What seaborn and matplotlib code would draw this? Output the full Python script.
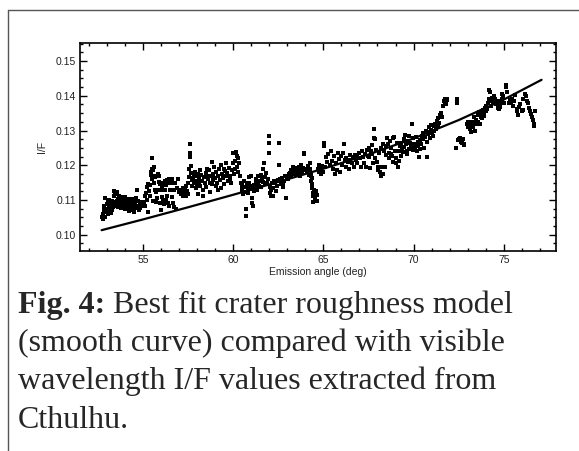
import numpy as np
import pandas as pd
import matplotlib
matplotlib.use("Agg")
import matplotlib.pyplot as plt
import seaborn as sns
from matplotlib.ticker import MultipleLocator
from matplotlib.lines import Line2D

# ---- data: (emission angle, I/F) ----
points_a = [(52.73, 0.1050), (52.76, 0.1060), (52.78, 0.1044), (52.82, 0.1072), (52.85, 0.1082),
            (52.88, 0.1052), (52.91, 0.1105), (52.94, 0.1066), (52.97, 0.1088), (53.00, 0.1074),
            (53.03, 0.1096), (53.06, 0.1060), (53.09, 0.1084), (53.12, 0.1100), (53.15, 0.1070),
            (53.18, 0.1092), (53.21, 0.1062), (53.24, 0.1086), (53.27, 0.1072), (53.30, 0.1098),
            (53.33, 0.1080), (53.36, 0.1112), (53.39, 0.1126), (53.42, 0.1086), (53.45, 0.1118),
            (53.48, 0.1094), (53.51, 0.1082), (53.54, 0.1122), (53.57, 0.1096), (53.60, 0.1080),
            (53.63, 0.1104), (53.66, 0.1088), (53.69, 0.1110), (53.72, 0.1084), (53.75, 0.1100),
            (53.78, 0.1076), (53.81, 0.1108), (53.84, 0.1092), (53.87, 0.1080), (53.90, 0.1102),
            (53.93, 0.1086), (53.96, 0.1098), (53.99, 0.1108), (54.02, 0.1074), (54.05, 0.1094),
            (54.08, 0.1086), (54.11, 0.1102), (54.14, 0.1078), (54.17, 0.1098), (54.20, 0.1068),
            (54.23, 0.1090), (54.26, 0.1104), (54.29, 0.1082), (54.32, 0.1070), (54.35, 0.1098),
            (54.38, 0.1088), (54.41, 0.1074), (54.44, 0.1104), (54.47, 0.1084), (54.50, 0.1066),
            (54.53, 0.1100), (54.56, 0.1090), (54.59, 0.1078), (54.62, 0.1106), (54.65, 0.1130),
            (54.68, 0.1082), (54.72, 0.1096), (54.76, 0.1070), (54.80, 0.1088), (54.85, 0.1078),
            (54.90, 0.1094), (54.95, 0.1082)]

points_b = [(55.04, 0.1095), (55.09, 0.1082), (55.13, 0.1110), (55.17, 0.1120), (55.21, 0.1100),
            (55.24, 0.1138), (55.27, 0.1145), (55.29, 0.1065), (55.32, 0.1125), (55.36, 0.1142),
            (55.39, 0.1110), (55.42, 0.1172), (55.45, 0.1180), (55.47, 0.1160), (55.49, 0.1220),
            (55.52, 0.1190), (55.54, 0.1098), (55.56, 0.1185), (55.58, 0.1150), (55.60, 0.1195),
            (55.62, 0.1170), (55.65, 0.1165), (55.67, 0.1128), (55.70, 0.1095), (55.73, 0.1122),
            (55.76, 0.1105), (55.79, 0.1130), (55.83, 0.1175), (55.86, 0.1152), (55.89, 0.1168),
            (55.92, 0.1090), (55.95, 0.1145), (55.98, 0.1070), (56.01, 0.1128), (56.04, 0.1108),
            (56.07, 0.1140), (56.10, 0.1098), (56.13, 0.1150), (56.16, 0.1088), (56.19, 0.1130),
            (56.22, 0.1155), (56.25, 0.1100), (56.28, 0.1142), (56.31, 0.1158), (56.34, 0.1110),
            (56.37, 0.1092), (56.40, 0.1148), (56.43, 0.1160), (56.46, 0.1082), (56.50, 0.1130),
            (56.54, 0.1150), (56.58, 0.1108), (56.62, 0.1160), (56.66, 0.1090), (56.70, 0.1128),
            (56.74, 0.1080), (56.78, 0.1150), (56.82, 0.1075), (56.86, 0.1135), (56.91, 0.1160),
            (56.97, 0.1122)]

points_c = [(57.08, 0.1128), (57.12, 0.1118), (57.17, 0.1125), (57.20, 0.1110), (57.23, 0.1135),
            (57.28, 0.1120), (57.32, 0.1130), (57.37, 0.1112), (57.40, 0.1140), (57.43, 0.1125),
            (57.47, 0.1150), (57.51, 0.1118), (57.54, 0.1165), (57.56, 0.1190), (57.58, 0.1225),
            (57.60, 0.1235), (57.62, 0.1262), (57.65, 0.1198), (57.67, 0.1178), (57.70, 0.1158),
            (57.73, 0.1140), (57.77, 0.1162), (57.80, 0.1148), (57.83, 0.1175), (57.87, 0.1180),
            (57.90, 0.1155), (57.93, 0.1135), (57.98, 0.1168), (58.01, 0.1145), (58.04, 0.1175),
            (58.06, 0.1118), (58.08, 0.1160), (58.11, 0.1150), (58.14, 0.1185), (58.18, 0.1140),
            (58.22, 0.1172), (58.27, 0.1155), (58.30, 0.1128), (58.33, 0.1110), (58.38, 0.1165),
            (58.42, 0.1148), (58.47, 0.1178), (58.50, 0.1138), (58.53, 0.1190), (58.58, 0.1160),
            (58.62, 0.1170), (58.67, 0.1185), (58.70, 0.1150), (58.73, 0.1122), (58.77, 0.1168),
            (58.80, 0.1210), (58.83, 0.1145), (58.87, 0.1175), (58.90, 0.1158), (58.93, 0.1195),
            (58.98, 0.1162), (59.02, 0.1140), (59.07, 0.1180), (59.10, 0.1150), (59.13, 0.1128),
            (59.18, 0.1170), (59.22, 0.1188), (59.27, 0.1158), (59.30, 0.1200), (59.33, 0.1135),
            (59.38, 0.1175), (59.42, 0.1162), (59.47, 0.1190), (59.50, 0.1145), (59.53, 0.1182),
            (59.58, 0.1168), (59.62, 0.1205), (59.68, 0.1178), (59.72, 0.1155), (59.77, 0.1192),
            (59.80, 0.1170), (59.83, 0.1160), (59.88, 0.1148), (59.92, 0.1185), (59.97, 0.1235),
            (60.00, 0.1205), (60.03, 0.1175)]

points_d = [(60.08, 0.1188), (60.12, 0.1212), (60.17, 0.1238), (60.19, 0.1228), (60.21, 0.1195),
            (60.25, 0.1180), (60.27, 0.1220), (60.33, 0.1205), (60.37, 0.1170), (60.43, 0.1150),
            (60.47, 0.1135), (60.49, 0.1145), (60.51, 0.1128), (60.53, 0.1118), (60.58, 0.1122),
            (60.62, 0.1155), (60.68, 0.1055), (60.70, 0.1075), (60.72, 0.1138), (60.77, 0.1148),
            (60.80, 0.1120), (60.83, 0.1130), (60.87, 0.1165), (60.90, 0.1150), (60.93, 0.1140),
            (60.98, 0.1170), (61.01, 0.1132), (61.03, 0.1090), (61.05, 0.1105), (61.07, 0.1082),
            (61.13, 0.1125), (61.17, 0.1142), (61.22, 0.1135), (61.25, 0.1148), (61.28, 0.1160),
            (61.32, 0.1130), (61.35, 0.1168), (61.38, 0.1145), (61.43, 0.1140), (61.47, 0.1155),
            (61.52, 0.1172), (61.55, 0.1138), (61.58, 0.1160), (61.63, 0.1190), (61.67, 0.1152),
            (61.72, 0.1205), (61.75, 0.1165), (61.78, 0.1145), (61.83, 0.1178), (61.87, 0.1150),
            (61.93, 0.1160), (61.97, 0.1235), (61.99, 0.1283), (62.01, 0.1265), (62.03, 0.1138),
            (62.05, 0.1120), (62.07, 0.1110), (62.12, 0.1128), (62.15, 0.1148), (62.18, 0.1112),
            (62.23, 0.1135), (62.27, 0.1155), (62.33, 0.1148), (62.37, 0.1125), (62.43, 0.1140),
            (62.47, 0.1158)]

points_e = [(62.52, 0.1265), (62.55, 0.1200), (62.58, 0.1160), (62.63, 0.1145), (62.67, 0.1152),
            (62.72, 0.1162), (62.75, 0.1138), (62.78, 0.1148), (62.83, 0.1155), (62.87, 0.1170),
            (62.93, 0.1105), (62.97, 0.1165), (63.03, 0.1160), (63.07, 0.1175), (63.12, 0.1178),
            (63.15, 0.1168), (63.18, 0.1185), (63.23, 0.1172), (63.27, 0.1182), (63.32, 0.1195),
            (63.35, 0.1188), (63.38, 0.1175), (63.43, 0.1180), (63.47, 0.1192), (63.53, 0.1185),
            (63.57, 0.1175), (63.62, 0.1195), (63.65, 0.1182), (63.68, 0.1168), (63.73, 0.1188),
            (63.77, 0.1200), (63.83, 0.1178), (63.87, 0.1192), (63.92, 0.1235), (63.95, 0.1232),
            (63.98, 0.1185), (64.03, 0.1190), (64.07, 0.1180), (64.12, 0.1198), (64.15, 0.1185),
            (64.18, 0.1172), (64.23, 0.1188), (64.27, 0.1205), (64.29, 0.1168), (64.31, 0.1155),
            (64.33, 0.1178), (64.35, 0.1145), (64.37, 0.1162), (64.39, 0.1135), (64.41, 0.1120),
            (64.43, 0.1110), (64.45, 0.1095), (64.47, 0.1128), (64.53, 0.1102), (64.57, 0.1125),
            (64.62, 0.1098), (64.65, 0.1115), (64.68, 0.1190), (64.73, 0.1180), (64.77, 0.1200),
            (64.82, 0.1192), (64.85, 0.1175), (64.88, 0.1185), (64.93, 0.1198), (64.97, 0.1180)]

points_f = [(65.02, 0.1265), (65.05, 0.1255), (65.10, 0.1195), (65.16, 0.1225), (65.22, 0.1210),
            (65.28, 0.1232), (65.34, 0.1200), (65.40, 0.1240), (65.46, 0.1212), (65.52, 0.1190),
            (65.58, 0.1228), (65.63, 0.1175), (65.68, 0.1205), (65.74, 0.1185), (65.80, 0.1235),
            (65.86, 0.1218), (65.90, 0.1180), (65.96, 0.1228), (66.02, 0.1200), (66.06, 0.1235),
            (66.12, 0.1260), (66.17, 0.1215), (66.23, 0.1195), (66.28, 0.1222), (66.34, 0.1210),
            (66.40, 0.1188), (66.45, 0.1230), (66.50, 0.1215), (66.56, 0.1205), (66.62, 0.1225),
            (66.67, 0.1195), (66.73, 0.1230), (66.78, 0.1215), (66.84, 0.1228), (66.89, 0.1205),
            (66.95, 0.1235), (67.01, 0.1222), (67.06, 0.1195), (67.12, 0.1240), (67.18, 0.1225),
            (67.24, 0.1205), (67.30, 0.1232), (67.35, 0.1195), (67.41, 0.1245), (67.47, 0.1228)]

points_g = [(67.52, 0.1225), (67.55, 0.1250), (67.58, 0.1192), (67.63, 0.1240), (67.67, 0.1232),
            (67.72, 0.1258), (67.75, 0.1205), (67.78, 0.1278), (67.82, 0.1305), (67.85, 0.1275),
            (67.88, 0.1220), (67.93, 0.1245), (67.97, 0.1210), (68.02, 0.1195), (68.05, 0.1185),
            (68.08, 0.1235), (68.13, 0.1180), (68.17, 0.1250), (68.22, 0.1168), (68.25, 0.1195),
            (68.28, 0.1262), (68.33, 0.1175), (68.37, 0.1240), (68.42, 0.1195), (68.45, 0.1255),
            (68.48, 0.1230), (68.53, 0.1278), (68.57, 0.1262), (68.62, 0.1235), (68.65, 0.1222),
            (68.68, 0.1270), (68.73, 0.1250), (68.77, 0.1232), (68.82, 0.1228), (68.85, 0.1278),
            (68.88, 0.1210), (68.93, 0.1282), (68.97, 0.1240), (69.02, 0.1220), (69.05, 0.1205),
            (69.08, 0.1265), (69.13, 0.1195), (69.17, 0.1212), (69.22, 0.1240), (69.25, 0.1255),
            (69.28, 0.1228), (69.33, 0.1265), (69.37, 0.1245), (69.42, 0.1238), (69.45, 0.1275),
            (69.48, 0.1252), (69.53, 0.1288), (69.57, 0.1262), (69.62, 0.1240), (69.65, 0.1232),
            (69.68, 0.1270), (69.73, 0.1285), (69.77, 0.1248), (69.83, 0.1265), (69.87, 0.1255),
            (69.92, 0.1318), (69.95, 0.1278), (69.98, 0.1245)]

points_h = [(70.03, 0.1262), (70.07, 0.1250), (70.12, 0.1280), (70.15, 0.1255), (70.18, 0.1240),
            (70.23, 0.1268), (70.27, 0.1258), (70.32, 0.1225), (70.35, 0.1248), (70.38, 0.1272),
            (70.43, 0.1262), (70.47, 0.1285), (70.52, 0.1292), (70.55, 0.1275), (70.58, 0.1250),
            (70.63, 0.1282), (70.67, 0.1300), (70.72, 0.1225), (70.75, 0.1268), (70.78, 0.1290),
            (70.83, 0.1310), (70.87, 0.1295), (70.92, 0.1278), (70.95, 0.1302), (70.98, 0.1315),
            (71.03, 0.1292), (71.07, 0.1285), (71.12, 0.1312), (71.15, 0.1298), (71.18, 0.1320),
            (71.23, 0.1305), (71.27, 0.1318), (71.32, 0.1328), (71.35, 0.1310), (71.38, 0.1335),
            (71.43, 0.1322), (71.47, 0.1345), (71.53, 0.1350), (71.57, 0.1338), (71.63, 0.1370),
            (71.67, 0.1385), (71.72, 0.1382), (71.75, 0.1390), (71.78, 0.1375), (71.83, 0.1388),
            (71.87, 0.1392), (72.37, 0.1250), (72.40, 0.1392), (72.43, 0.1378), (72.48, 0.1272),
            (72.52, 0.1275), (72.58, 0.1278), (72.62, 0.1268), (72.68, 0.1265), (72.72, 0.1275),
            (72.78, 0.1262), (72.82, 0.1258)]

points_i = [(72.97, 0.1318), (73.00, 0.1325), (73.03, 0.1310), (73.08, 0.1322), (73.12, 0.1305),
            (73.17, 0.1295), (73.20, 0.1315), (73.23, 0.1325), (73.28, 0.1310), (73.32, 0.1320),
            (73.37, 0.1340), (73.40, 0.1300), (73.43, 0.1318), (73.48, 0.1330), (73.52, 0.1318),
            (73.57, 0.1345), (73.60, 0.1325), (73.63, 0.1352), (73.68, 0.1318), (73.72, 0.1340),
            (73.77, 0.1335), (73.80, 0.1348), (73.83, 0.1358), (73.88, 0.1352), (73.92, 0.1342),
            (73.97, 0.1365), (74.00, 0.1355), (74.03, 0.1372), (74.08, 0.1362), (74.12, 0.1378),
            (74.17, 0.1390), (74.20, 0.1418), (74.23, 0.1412), (74.28, 0.1385), (74.32, 0.1372),
            (74.37, 0.1395), (74.40, 0.1380), (74.43, 0.1388), (74.48, 0.1400), (74.52, 0.1392),
            (74.58, 0.1375), (74.62, 0.1385), (74.68, 0.1365), (74.72, 0.1362), (74.77, 0.1378),
            (74.80, 0.1368), (74.83, 0.1385), (74.88, 0.1392), (74.92, 0.1405), (74.98, 0.1398),
            (75.02, 0.1380)]

points_j = [(75.11, 0.1425), (75.15, 0.1430), (75.19, 0.1410), (75.27, 0.1378), (75.33, 0.1388),
            (75.41, 0.1380), (75.45, 0.1392), (75.49, 0.1372), (75.57, 0.1385), (75.63, 0.1402),
            (75.71, 0.1362), (75.75, 0.1355), (75.79, 0.1345), (75.87, 0.1368), (75.93, 0.1375),
            (76.01, 0.1355), (76.05, 0.1392), (76.09, 0.1360), (76.17, 0.1405), (76.23, 0.1398),
            (76.31, 0.1385), (76.35, 0.1378), (76.39, 0.1365), (76.47, 0.1355), (76.53, 0.1348),
            (76.58, 0.1340), (76.62, 0.1330), (76.67, 0.1312), (76.70, 0.1318), (76.74, 0.1355)]

# best-fit crater roughness model (smooth curve)
model_angle = [52.7, 55.0, 57.5, 60.0, 62.5, 65.0, 67.5, 70.0, 72.5, 75.0, 77.1]
model_iof = [0.1013, 0.1044, 0.1079, 0.1115, 0.1152, 0.1190, 0.1231, 0.1277, 0.1330, 0.1389, 0.1446]

x_ticks = [55, 60, 65, 70, 75]
y_ticks = [0.10, 0.11, 0.12, 0.13, 0.14, 0.15]
x_label = "Emission angle (deg)"
y_label = "I/F"
caption_bold = "Fig. 4:"
caption_lines = [" Best fit crater roughness model",
                 "(smooth curve) compared with visible",
                 "wavelength I/F values extracted from",
                 "Cthulhu."]

all_points = (points_a + points_b + points_c + points_d + points_e +
              points_f + points_g + points_h + points_i + points_j)
obs = pd.DataFrame(all_points, columns=["angle", "iof"])
model = pd.DataFrame({"angle": model_angle, "iof": model_iof})

# ---- drawing ----
sns.set_theme(style="white")
plt.rcParams["font.family"] = ["Liberation Sans", "DejaVu Sans"]

W, H = 579, 451
fig = plt.figure(figsize=(W / 100, H / 100), dpi=100)
fig.patch.set_facecolor("white")

# outer frame of the figure panel (top and left edges visible)
fig.add_artist(Line2D([8 / W, 8 / W], [0, 1 - 10 / H], transform=fig.transFigure, color="#555555", lw=1.0))
fig.add_artist(Line2D([8 / W, 1], [1 - 10 / H, 1 - 10 / H], transform=fig.transFigure, color="#555555", lw=1.0))

left, right, top, bottom = 80, 556, 43, 251
ax = fig.add_axes([left / W, 1 - bottom / H, (right - left) / W, (bottom - top) / H])

sns.scatterplot(data=obs, x="angle", y="iof", ax=ax, color="black", marker="s", s=5,
                linewidth=0, legend=False)
sns.lineplot(data=model, x="angle", y="iof", ax=ax, color="black", lw=1.6)

ax.set_xlim(51.5, 77.9)
ax.set_ylim(0.0953, 0.1552)
ax.set_xticks(x_ticks)
ax.set_xticklabels([str(t) for t in x_ticks])
ax.set_yticks(y_ticks)
ax.set_yticklabels([f"{t:.2f}" for t in y_ticks])
ax.xaxis.set_minor_locator(MultipleLocator(1))
ax.yaxis.set_minor_locator(MultipleLocator(0.0025))
ax.tick_params(which="both", direction="in", top=True, right=True, bottom=True, left=True,
               color="black", width=1.0, labelsize=7.5, pad=3, labelcolor="#222222")
ax.tick_params(which="major", length=5)
ax.tick_params(which="minor", length=2.5)
for sp in ax.spines.values():
    sp.set_color("black")
    sp.set_linewidth(1.2)
ax.set_xlabel(x_label, fontsize=7.5, labelpad=1, color="#222222")
ax.set_ylabel(y_label, fontsize=7.5, labelpad=6, color="#222222")

# caption
serif = ["Liberation Serif", "DejaVu Serif"]
cap_fs = 23
cap_x = 18
t = fig.text(cap_x / W, 1 - 305 / H, caption_bold, fontsize=cap_fs, fontweight="bold",
             family=serif, va="center", ha="left")
fig.canvas.draw()
bb = t.get_window_extent()
fig.text(bb.x1 / W, 1 - 305 / H, caption_lines[0], fontsize=cap_fs, family=serif, va="center", ha="left")
for i, line in enumerate(caption_lines[1:]):
    fig.text(cap_x / W, 1 - (343 + 38.5 * i) / H, line, fontsize=cap_fs, family=serif, va="center", ha="left")

fig.savefig("out.png", dpi=100)
